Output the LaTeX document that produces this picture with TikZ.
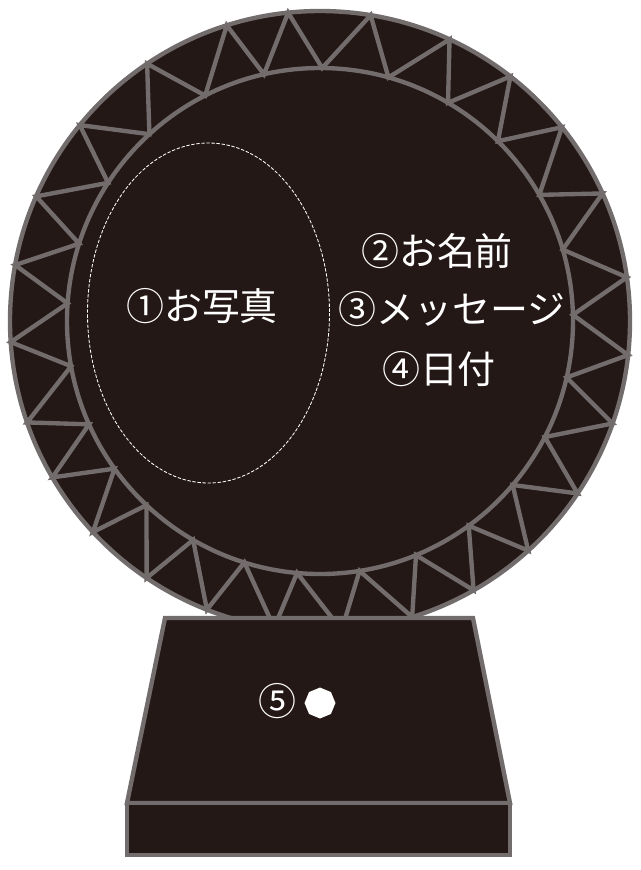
\documentclass[tikz,border=0pt]{standalone}
\usepackage{fontspec}
\newfontfamily\jp{Noto Sans CJK JP}
\usetikzlibrary{shapes.geometric}
\definecolor{board}{HTML}{231815}
\definecolor{rim}{HTML}{726D6C}
\tikzset{
  part/.style={draw=rim, fill=board, line width=3.1pt},
  rimline/.style={draw=rim, line width=3.1pt},
  lbl/.style={text=white, font=\jp\fontsize{27}{31}\selectfont, inner sep=0pt},
}
\begin{document}
\begin{tikzpicture}[x=0.025cm, y=-0.025cm]
  \useasboundingbox (0,0) rectangle (640,870);

  \draw[part] (320,321) circle [radius=310];
  \begin{scope}[shift={(320,321)}]
    \draw[rimline] (358.6:253)
      \foreach \oa/\ia in {6.3/12.9, 19.3/27.3, 33.8/40.4, 47.8/54, 60.3/67.7,
        72.7/81, 86/95.2, 98.5/107.4, 111.4/120.1, 124/133.3, 137.1/144.3,
        149.7/155.9, 160.9/169.7, 176.1/184, 190.4/197.8, 203.7/213.1,
        219.2/227.6, 236.1/243, 252.5/257.2, 264.1/270.5, 279.4/285.7,
        294.7/300.4, 307.9/314.7, 321.3/330.1, 335.7/343.6, 351.9/358.6}
      { -- (\oa:310) -- (\ia:253) } -- cycle;
  \end{scope}
  \draw[rimline] (320,321) circle [radius=253];

  \draw[white, line width=0.6pt, dash pattern=on 2.4pt off 1.2pt] (208.5,313) ellipse [x radius=121, y radius=170];

  \node[lbl] (photo) at (202,306) {①お写真};
  \node[lbl] (name) at (437,251) {②お名前};
  \node[lbl] (message) at (452,309) {③メッセージ};
  \node[lbl] (date) at (439,369) {④日付};

  \draw[part] (165,618) -- (473,618) -- (510,803) -- (127,803) -- cycle;
  \draw[part] (127,803) rectangle (510,855);

  \node[lbl] (hole) at (277,701) {⑤};
  \node[regular polygon, regular polygon sides=8, shape border rotate=22.5, fill=white, minimum size=22pt, inner sep=0pt] (dot) at (320,703) {};
\end{tikzpicture}
\end{document}
